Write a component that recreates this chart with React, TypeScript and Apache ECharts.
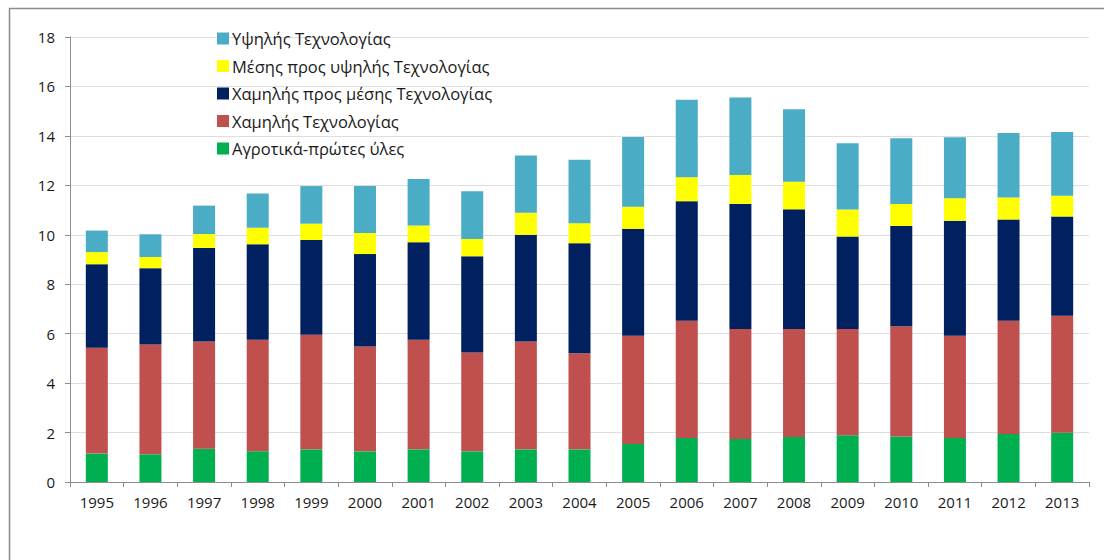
import React, { useEffect, useRef } from "react";
import * as echarts from "echarts";

const years = ["1995","1996","1997","1998","1999","2000","2001","2002","2003","2004","2005","2006","2007","2008","2009","2010","2011","2012","2013"];
const agro = [1.15,1.12,1.35,1.24,1.32,1.24,1.32,1.24,1.32,1.32,1.54,1.78,1.74,1.82,1.89,1.84,1.78,1.94,1.99];
const lowTech = [4.28,4.44,4.33,4.51,4.64,4.24,4.43,4.00,4.36,3.89,4.38,4.74,4.45,4.37,4.30,4.46,4.14,4.58,4.73];
const lowMedTech = [3.38,3.09,3.79,3.87,3.83,3.74,3.95,3.89,4.32,4.45,4.32,4.84,5.06,4.84,3.74,4.06,4.65,4.10,4.02];
const medHighTech = [0.49,0.45,0.56,0.66,0.66,0.85,0.68,0.70,0.89,0.81,0.89,0.97,1.17,1.12,1.09,0.89,0.91,0.89,0.84];
const highTech = [0.87,0.92,1.15,1.39,1.52,1.90,1.88,1.93,2.32,2.56,2.83,3.13,3.13,2.93,2.68,2.65,2.46,2.61,2.58];

const names = {
  agro: "Αγροτικά-πρώτες ύλες",
  low: "Χαμηλής Τεχνολογίας",
  lowMed: "Χαμηλής προς μέσης Τεχνολογίας",
  medHigh: "Μέσης προς υψηλής Τεχνολογίας",
  high: "Υψηλής Τεχνολογίας",
};

const FONT = "'Open Sans', 'Noto Sans', sans-serif";

export default function App() {
  const ref = useRef<HTMLDivElement>(null);
  useEffect(() => {
    if (!ref.current) return;
    const chart = echarts.init(ref.current, undefined, { renderer: "svg" });
    const mk = (name: string, data: number[], color: string) => ({
      name,
      type: "bar",
      stack: "total",
      data,
      barWidth: 22,
      itemStyle: { color },
    });
    chart.setOption({
      animation: false,
      backgroundColor: "#ffffff",
      textStyle: { fontFamily: FONT },
      graphic: [
        {
          type: "rect",
          shape: { x: 9.5, y: 8.5, width: 1100, height: 570 },
          style: { fill: "none", stroke: "#8a8a8a", lineWidth: 1.5 },
          silent: true,
        },
      ],
      legend: {
        orient: "vertical",
        left: 212,
        top: 25,
        itemWidth: 12,
        itemHeight: 12,
        itemGap: 10.5,
        icon: "rect",
        textStyle: { fontSize: 16.5, color: "#1a1a1a", fontFamily: FONT, padding: [0, 0, 0, -2] },
        data: [names.high, names.medHigh, names.lowMed, names.low, names.agro],
      },
      grid: { left: 70, right: 15, top: 37, bottom: 78, containLabel: false },
      xAxis: {
        type: "category",
        data: years,
        axisLine: { lineStyle: { color: "#8c8c8c" } },
        axisTick: { show: true, length: 5, lineStyle: { color: "#8c8c8c" } },
        axisLabel: { color: "#1a1a1a", fontSize: 15, margin: 12, fontFamily: FONT },
      },
      yAxis: {
        type: "value",
        min: 0,
        max: 18,
        interval: 2,
        axisLine: { show: true, lineStyle: { color: "#8c8c8c" } },
        axisTick: { show: true, length: 5, lineStyle: { color: "#8c8c8c" } },
        axisLabel: { color: "#1a1a1a", fontSize: 15, margin: 15, fontFamily: FONT },
        splitLine: { lineStyle: { color: "#dedede" } },
      },
      series: [
        mk(names.agro, agro, "#00b050"),
        mk(names.low, lowTech, "#c0504d"),
        mk(names.lowMed, lowMedTech, "#002060"),
        mk(names.medHigh, medHighTech, "#ffff00"),
        mk(names.high, highTech, "#4bacc6"),
      ],
    });
    return () => chart.dispose();
  }, []);
  return (
    <div
      ref={ref}
      style={{ position: "fixed", left: 0, top: 0, width: 1104, height: 560, background: "#fff" }}
    />
  );
}
